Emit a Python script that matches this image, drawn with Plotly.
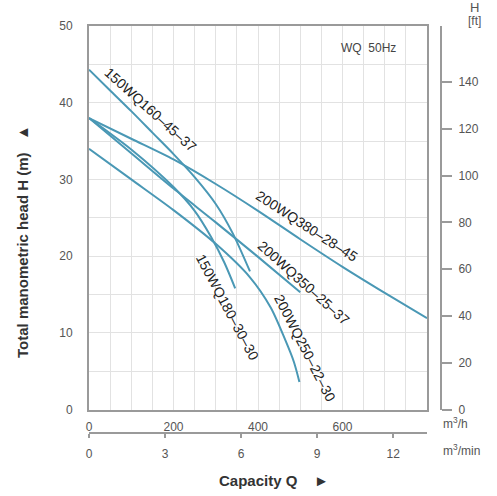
import plotly.graph_objects as go

# ---------------- data ----------------
q_160 = [0, 50, 100, 150, 200, 250, 300, 340, 381]
h_160 = [44.3, 41.6, 38.9, 36.1, 33.3, 30.3, 26.8, 23.0, 18.0]

q_380 = [0, 100, 200, 300, 400, 500, 600, 700, 800]
h_380 = [38.0, 35.3, 32.6, 29.4, 25.9, 22.2, 18.6, 15.2, 11.9]

q_350 = [0, 100, 200, 300, 400, 500]
h_350 = [38.0, 33.4, 28.8, 24.4, 19.9, 15.3]

q_180 = [0, 100, 200, 250, 290, 320, 346]
h_180 = [38.0, 33.9, 29.0, 25.9, 22.4, 19.2, 15.8]

q_250 = [0, 100, 200, 300, 380, 430, 465, 485, 498]
h_250 = [34.0, 30.0, 26.0, 21.6, 17.3, 13.3, 9.0, 6.2, 3.6]

curve_names = ["150WQ160–45–37", "200WQ380–28–45", "200WQ350–25–37",
               "150WQ180–30–30", "200WQ250–22–30"]
# label anchor (Q m3/h, H m) and rotation angle
label_q = [147, 515, 509, 328, 511]
label_h = [39.1, 23.9, 16.5, 13.4, 8.0]
label_angle = [42, 33, 42, 62, 63]

q_ticks_h = [0, 200, 400, 600]
q_ticks_min = [0, 3, 6, 9, 12]
h_ticks_m = [0, 10, 20, 30, 40, 50]
h_ticks_ft = [0, 20, 40, 60, 80, 100, 120, 140]

Q_MAX = 800
H_MAX = 50
M_TO_FT = 3.28084

# ---------------- figure ----------------
W, Hh = 497, 496
ML, MR, MT, MB = 89, 56, 26, 63
PW = W - ML - MR
PH = Hh - MT - MB

def px(x):
    return (x - ML) / PW

def py(y):
    return (Hh - MB - y) / PH

LINE = "#4a98b5"
FONT = "Liberation Sans, Arial, Helvetica, sans-serif"
TICKC = "#555555"
AXC = "#9a9a9a"
GRIDC = "#e2e2e2"

fig = go.Figure()
series = [(q_160, h_160), (q_380, h_380), (q_350, h_350), (q_180, h_180), (q_250, h_250)]
for (qs, hs), name in zip(series, curve_names):
    fig.add_trace(go.Scatter(x=qs, y=hs, mode="lines", name=name,
                             line=dict(color=LINE, width=2, shape="spline", smoothing=0.8),
                             showlegend=False, hoverinfo="skip"))

# invisible traces for secondary axes
fig.add_trace(go.Scatter(x=[0, Q_MAX / 60], y=[0, 0], xaxis="x2", yaxis="y",
                         mode="markers", marker=dict(opacity=0), showlegend=False, hoverinfo="skip"))
fig.add_trace(go.Scatter(x=[0, 0], y=[0, H_MAX * M_TO_FT], xaxis="x", yaxis="y2",
                         mode="markers", marker=dict(opacity=0), showlegend=False, hoverinfo="skip"))

x_dom_end = (427 - ML) / PW
y_dom_start = py(409.5)

annotations = []
for name, lq, lh, ang in zip(curve_names, label_q, label_h, label_angle):
    annotations.append(dict(x=lq, y=lh, xref="x", yref="y", text=name, showarrow=False,
                            textangle=ang, font=dict(family=FONT, size=14, color="#222222"),
                            xanchor="center", yanchor="middle"))

annotations += [
    dict(x=px(368), y=py(48), xref="paper", yref="paper", text="WQ  50Hz", showarrow=False,
         font=dict(family=FONT, size=12, color="#444444"), xanchor="center", yanchor="middle"),
    dict(x=px(474), y=py(8), xref="paper", yref="paper", text="H", showarrow=False,
         font=dict(family=FONT, size=13, color="#555555"), xanchor="center", yanchor="middle"),
    dict(x=px(474), y=py(21), xref="paper", yref="paper", text="[ft]", showarrow=False,
         font=dict(family=FONT, size=12, color="#555555"), xanchor="center", yanchor="middle"),
    dict(x=px(441), y=py(423), xref="paper", yref="paper", text="m<sup>3</sup>/h", showarrow=False,
         font=dict(family=FONT, size=12, color="#555555"), xanchor="left", yanchor="middle"),
    dict(x=px(441), y=py(450), xref="paper", yref="paper", text="m<sup>3</sup>/min", showarrow=False,
         font=dict(family=FONT, size=12, color="#555555"), xanchor="left", yanchor="middle"),
    dict(x=px(274), y=py(480), xref="paper", yref="paper", text="<b>Capacity Q    ►</b>",
         showarrow=False, font=dict(family=FONT, size=15, color="#333333"),
         xanchor="center", yanchor="middle"),
    dict(x=px(23), y=py(242), xref="paper", yref="paper",
         text="<b>Total manometric head H (m)   ▲</b>", textangle=-90, showarrow=False,
         font=dict(family=FONT, size=15, color="#333333"), xanchor="center", yanchor="middle"),
]

fig.update_layout(
    width=W, height=Hh,
    margin=dict(l=ML, r=MR, t=MT, b=MB, pad=0),
    paper_bgcolor="white", plot_bgcolor="white",
    font=dict(family=FONT, size=12, color=TICKC),
    xaxis=dict(domain=[0, x_dom_end], range=[0, Q_MAX], tickvals=q_ticks_h,
               showgrid=True, gridcolor=GRIDC, gridwidth=1,
               minor=dict(dtick=50, showgrid=True, gridcolor=GRIDC, gridwidth=1),
               showline=True, linecolor=AXC, linewidth=2, mirror=True,
               ticks="", ticklabelstandoff=5, zeroline=False, anchor="y",
               tickfont=dict(size=12, color=TICKC)),
    yaxis=dict(domain=[y_dom_start, 1], range=[0, H_MAX], tickvals=h_ticks_m,
               showgrid=True, gridcolor=GRIDC, gridwidth=1,
               minor=dict(dtick=5, showgrid=True, gridcolor=GRIDC, gridwidth=1),
               showline=True, linecolor=AXC, linewidth=2, mirror=True,
               ticks="", ticklabelstandoff=12, zeroline=False, anchor="x",
               tickfont=dict(size=12, color=TICKC)),
    xaxis2=dict(overlaying="x", anchor="free", position=0, side="bottom",
                range=[0, Q_MAX / 60], tickvals=q_ticks_min, showgrid=False, zeroline=False,
                showline=True, linecolor=AXC, linewidth=2, ticks="outside", ticklen=4,
                tickwidth=1.5, tickcolor=AXC, ticklabelstandoff=6,
                tickfont=dict(size=12, color=TICKC)),
    yaxis2=dict(overlaying="y", anchor="free", position=1, side="right",
                range=[0, H_MAX * M_TO_FT], tickvals=h_ticks_ft, showgrid=False, zeroline=False,
                showline=True, linecolor=AXC, linewidth=2, ticks="outside", ticklen=10,
                tickwidth=1.5, tickcolor=AXC, ticklabelstandoff=4,
                tickfont=dict(size=12, color=TICKC)),
    annotations=annotations,
)

fig.write_html("out.html", config={"displayModeBar": False},
               post_script="document.body.style.margin='0';document.body.style.overflow='hidden';")
